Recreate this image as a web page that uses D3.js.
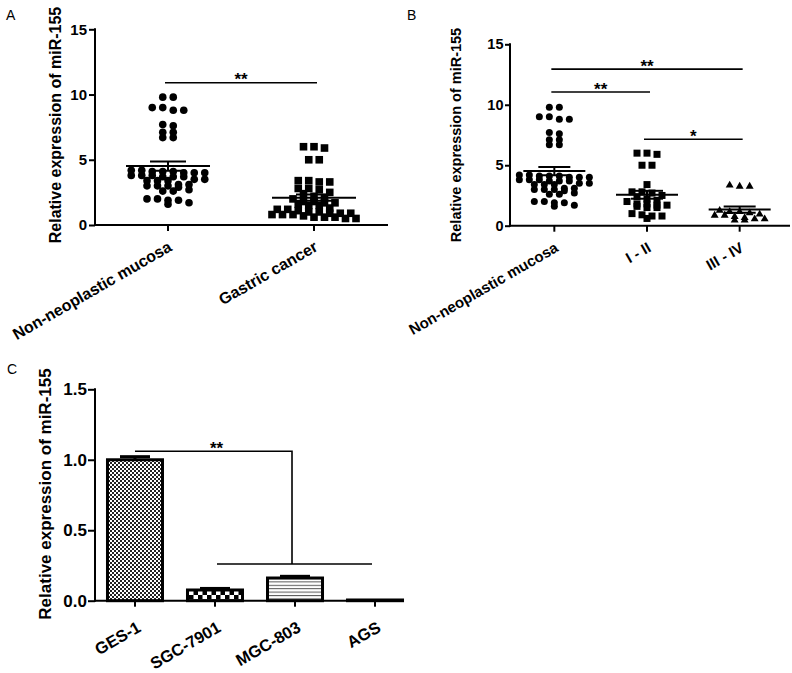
<!DOCTYPE html>
<html><head><meta charset="utf-8">
<script src="https://cdn.jsdelivr.net/npm/d3@7"></script>
<style>
body{margin:0;background:#fff}
svg{display:block}
text{font-family:"Liberation Sans",Arial,Helvetica,sans-serif;fill:#000}
</style>
</head><body>
<svg id="c" width="792" height="673"></svg>
<script>
// ---------------- DATA ----------------
const normalMucosa = [9.8, 9.8, 9.0, 9.0, 8.8, 8.8, 7.7, 7.6, 7.1, 7.1, 6.7, 6.7,
  4.2, 4.1, 4.1, 4.0, 4.0, 4.1, 4.2, 4.0,
  3.8, 3.7, 3.8, 3.7, 3.8, 3.7,
  3.4, 3.5, 3.4, 3.5, 3.4,
  3.0, 3.1, 3.0, 2.9, 3.0, 3.1,
  2.7, 2.6, 2.6,
  2.0, 1.9, 2.0, 1.9,
  1.7, 1.6];
const stageI_II = [5.9, 6.0, 6.0, 5.0, 5.0, 3.4, 2.8, 2.8, 2.7, 2.5, 2.4, 2.2, 2.1, 2.0,
  1.8, 1.8, 1.7, 1.7, 1.6, 1.5, 1.5, 1.0, 0.9, 0.8, 0.6, 0.8];
const stageIII_IV = [3.3, 3.3, 3.4, 1.3, 1.2, 1.2, 1.1, 1.0, 0.9, 0.9, 0.8, 0.7, 0.6, 0.6, 0.5, 0.5];
const gastricCancer = stageI_II.concat(stageIII_IV);

const panelACategories = ["Non-neoplastic mucosa", "Gastric cancer"];
const panelBCategories = ["Non-neoplastic mucosa", "I - II", "III - IV"];
const scatterTicks = [0, 5, 10, 15];

const cellLines = ["GES-1", "SGC-7901", "MGC-803", "AGS"];
const cellMeans = [1.0, 0.076, 0.161, 0.005];
const cellErrors = [0.022, 0.011, 0.012, 0.0];
const barTicks = [0, 0.5, 1.0, 1.5];

const yTitle = "Relative expression of miR-155";
// significance brackets (value level of the line)
const sigA = [{from: 0, to: 1, level: 10.9, label: "**"}];
const sigB = [{from: 0, to: 2, level: 12.95, label: "**"},
              {from: 0, to: 1, level: 11.05, label: "**"},
              {from: 1, to: 2, level: 7.15, label: "*"}];
const sigC = {from: 0, joint: 2, groupFrom: 1, groupTo: 3, top: 1.06, bottom: 0.26, label: "**"};

// ---------------- DRAW ----------------
const svg = d3.select("#c");
const FONT = '"Liberation Sans",Arial,sans-serif';

// Prism-style scatter layout: points grouped in horizontal rows, centred
function rowLayout(vals, y, binPx, s) {
  const binU = Math.abs(y.invert(0) - y.invert(binPx));
  const sorted = vals.slice().sort((a, b) => b - a);
  const out = [];
  let row = [];
  const flush = () => { row.forEach((v, j) => out.push({v, y: y(v), dx: (j - (row.length - 1) / 2) * s})); row = []; };
  sorted.forEach(v => { if (row.length && row[0] - v > binU) flush(); row.push(v); });
  flush();
  return out;
}

function drawMarker(g, shape, cx, cy, s) {
  if (shape === "circle") g.append("circle").attr("cx", cx).attr("cy", cy).attr("r", s / 2);
  else if (shape === "square") g.append("rect").attr("x", cx - s / 2).attr("y", cy - s / 2).attr("width", s).attr("height", s);
  else g.append("path").attr("d", d3.symbol(d3.symbolTriangle, s * s * 0.55)()).attr("transform", `translate(${cx},${cy + 0.6})`);
}

function yAxis(g, y, ticks, fmt, size, tickLen, pad) {
  const ax = g.append("g").attr("transform", `translate(${y.xPos},0)`)
    .call(d3.axisLeft(y).tickValues(ticks).tickFormat(fmt).tickSize(tickLen).tickSizeOuter(0).tickPadding(pad));
  ax.selectAll("path,line").attr("stroke", "#000").attr("stroke-width", 2);
  ax.selectAll("text").attr("font-size", size).attr("font-weight", "bold").attr("font-family", FONT);
  ax.select(".domain").attr("d", `M0,${y.range()[0] + 1}V${y.range()[1] - 1}`);
}

function xAxis(g, x, yPix, x0, x1, size, off) {
  g.append("line").attr("x1", x0 - 1).attr("x2", x1).attr("y1", yPix).attr("y2", yPix)
    .attr("stroke", "#000").attr("stroke-width", 2);
  x.domain().forEach(c => {
    const cx = x(c) + x.bandwidth() / 2;
    g.append("line").attr("x1", cx).attr("x2", cx).attr("y1", yPix).attr("y2", yPix + 6)
      .attr("stroke", "#000").attr("stroke-width", 2);
    g.append("text").attr("transform", `translate(${cx + off[0]},${yPix + off[1]}) rotate(-30)`)
      .attr("text-anchor", "end").attr("font-size", size).attr("font-weight", "bold").text(c);
  });
}

function yTitleText(cx, cy, size) {
  svg.append("text").attr("transform", `translate(${cx},${cy}) rotate(-90)`)
    .attr("text-anchor", "middle").attr("dy", "0.35em")
    .attr("font-size", size).attr("font-weight", "bold").text(yTitle);
}

function panelLetter(t, x, y) {
  svg.append("text").attr("x", x).attr("y", y).attr("font-size", 14).text(t);
}

function scatterPanel(cfg) {
  const g = svg.append("g");
  const y = d3.scaleLinear().domain([0, 15]).range([cfg.y0, cfg.y15]);
  y.xPos = cfg.axisX;
  const x = d3.scaleBand().domain(cfg.cats).range(cfg.xr);
  cfg.groups.forEach((vals, i) => {
    const cx = x(cfg.cats[i]) + x.bandwidth() / 2;
    const pts = rowLayout(vals, y, cfg.binPx, cfg.spacing);
    const pg = g.append("g").attr("fill", "#000");
    pts.forEach(p => drawMarker(pg, cfg.shapes[i], cx + p.dx, p.y, cfg.msize));
    const m = d3.mean(vals), se = d3.deviation(vals) / Math.sqrt(vals.length);
    const lg = g.append("g").attr("stroke", "#000").attr("stroke-width", 2);
    lg.append("line").attr("x1", cx - cfg.meanHalf).attr("x2", cx + cfg.meanHalf).attr("y1", y(m)).attr("y2", y(m));
    lg.append("line").attr("x1", cx).attr("x2", cx).attr("y1", y(m - se)).attr("y2", y(m + se));
    [m - se, m + se].forEach(v => lg.append("line").attr("x1", cx - cfg.capHalf).attr("x2", cx + cfg.capHalf).attr("y1", y(v)).attr("y2", y(v)));
  });
  yAxis(g, y, scatterTicks, d3.format("d"), cfg.tickFont, cfg.tickLen, cfg.tickPad);
  xAxis(g, x, cfg.y0, cfg.axisX, cfg.axisEnd, cfg.labFont, cfg.labOff);
  cfg.sig.forEach(s => {
    const xa = x(cfg.cats[s.from]) + x.bandwidth() / 2 - 3, xb = x(cfg.cats[s.to]) + x.bandwidth() / 2 + 3;
    g.append("line").attr("x1", xa).attr("x2", xb).attr("y1", y(s.level)).attr("y2", y(s.level))
      .attr("stroke", "#000").attr("stroke-width", 1.6);
    g.append("text").attr("x", (xa + xb) / 2).attr("y", y(s.level) + 2.5).attr("text-anchor", "middle")
      .attr("font-size", 17).attr("font-weight", "bold").text(s.label);
  });
}

// Panel A
scatterPanel({cats: panelACategories, groups: [normalMucosa, gastricCancer], shapes: ["circle", "square"],
  y0: 225, y15: 29.3, axisX: 95, axisEnd: 388, xr: [95, 387], binPx: 4.6, spacing: 10.5, msize: 7.6,
  meanHalf: 42, capHalf: 18, tickFont: 15, tickLen: 6, tickPad: 2, labFont: 16, labOff: [5, 25], sig: sigA});
yTitleText(55, 125, 16);
panelLetter("A", 6, 20);

// Panel B
scatterPanel({cats: panelBCategories, groups: [normalMucosa, stageI_II, stageIII_IV], shapes: ["circle", "square", "triangle"],
  y0: 225.7, y15: 44.3, axisX: 510, axisEnd: 790, xr: [508, 786], binPx: 4.6, spacing: 10, msize: 7,
  meanHalf: 31, capHalf: 16, tickFont: 14.5, tickLen: 5, tickPad: 1.5, labFont: 15, labOff: [5, 25], sig: sigB});
yTitleText(456, 135, 14.5);
panelLetter("B", 407, 20);

// Panel C
(function () {
  const g = svg.append("g");
  const defs = svg.append("defs");
  const p1 = defs.append("pattern").attr("id", "pat0").attr("patternUnits", "userSpaceOnUse").attr("width", 4).attr("height", 4);
  p1.append("rect").attr("width", 4).attr("height", 4).attr("fill", "#fff");
  p1.append("rect").attr("width", 2).attr("height", 2).attr("fill", "#222");
  p1.append("rect").attr("x", 2).attr("y", 2).attr("width", 2).attr("height", 2).attr("fill", "#222");
  const p2 = defs.append("pattern").attr("id", "pat1").attr("patternUnits", "userSpaceOnUse").attr("width", 9).attr("height", 9).attr("y", 1);
  p2.append("rect").attr("width", 9).attr("height", 9).attr("fill", "#fff");
  p2.append("rect").attr("width", 4.5).attr("height", 4.5).attr("fill", "#000");
  p2.append("rect").attr("x", 4.5).attr("y", 4.5).attr("width", 4.5).attr("height", 4.5).attr("fill", "#000");
  const p3 = defs.append("pattern").attr("id", "pat2").attr("patternUnits", "userSpaceOnUse").attr("width", 4).attr("height", 3.4);
  p3.append("rect").attr("width", 4).attr("height", 3.4).attr("fill", "#fff");
  p3.append("rect").attr("width", 4).attr("height", 1).attr("fill", "#555");
  const fills = ["url(#pat0)", "url(#pat1)", "url(#pat2)", "#fff"];

  const y = d3.scaleLinear().domain([0, 1.5]).range([600.7, 389.3]);
  y.xPos = 95;
  const x = d3.scaleBand().domain(cellLines).range([95, 415]).paddingInner(0.3125).paddingOuter(0.156);
  cellLines.forEach((c, i) => {
    const v = cellMeans[i];
    g.append("rect").attr("x", x(c)).attr("y", y(v)).attr("width", x.bandwidth()).attr("height", y(0) - y(v))
      .attr("fill", fills[i]).attr("stroke", "#000").attr("stroke-width", 3);
    const cx = x(c) + x.bandwidth() / 2;
    if (cellErrors[i] > 0) {
      g.append("line").attr("x1", cx).attr("x2", cx).attr("y1", y(v)).attr("y2", y(v + cellErrors[i])).attr("stroke", "#000").attr("stroke-width", 3);
      g.append("line").attr("x1", cx - 15).attr("x2", cx + 15).attr("y1", y(v + cellErrors[i])).attr("y2", y(v + cellErrors[i])).attr("stroke", "#000").attr("stroke-width", 3);
    }
  });
  yAxis(g, y, barTicks, d3.format(".1f"), 17, 7, 1);
  xAxis(g, x, 600.7, 95, 402, 16.5, [7, 30]);
  const cxOf = i => x(cellLines[i]) + x.bandwidth() / 2;
  const jx = cxOf(sigC.joint) - 3;
  const sg = g.append("g").attr("stroke", "#000").attr("stroke-width", 1.6).attr("fill", "none");
  sg.append("path").attr("d", `M${cxOf(sigC.from)},${y(sigC.top)}H${jx}V${y(sigC.bottom)}`);
  sg.append("line").attr("x1", cxOf(sigC.groupFrom) + 2).attr("x2", cxOf(sigC.groupTo) - 3).attr("y1", y(sigC.bottom)).attr("y2", y(sigC.bottom));
  g.append("text").attr("x", (cxOf(sigC.from) + jx) / 2 + 3).attr("y", y(sigC.top) + 2.5).attr("text-anchor", "middle")
    .attr("font-size", 17).attr("font-weight", "bold").text(sigC.label);
})();
yTitleText(45, 494, 17);
panelLetter("C", 7, 374);
</script>
</body></html>
